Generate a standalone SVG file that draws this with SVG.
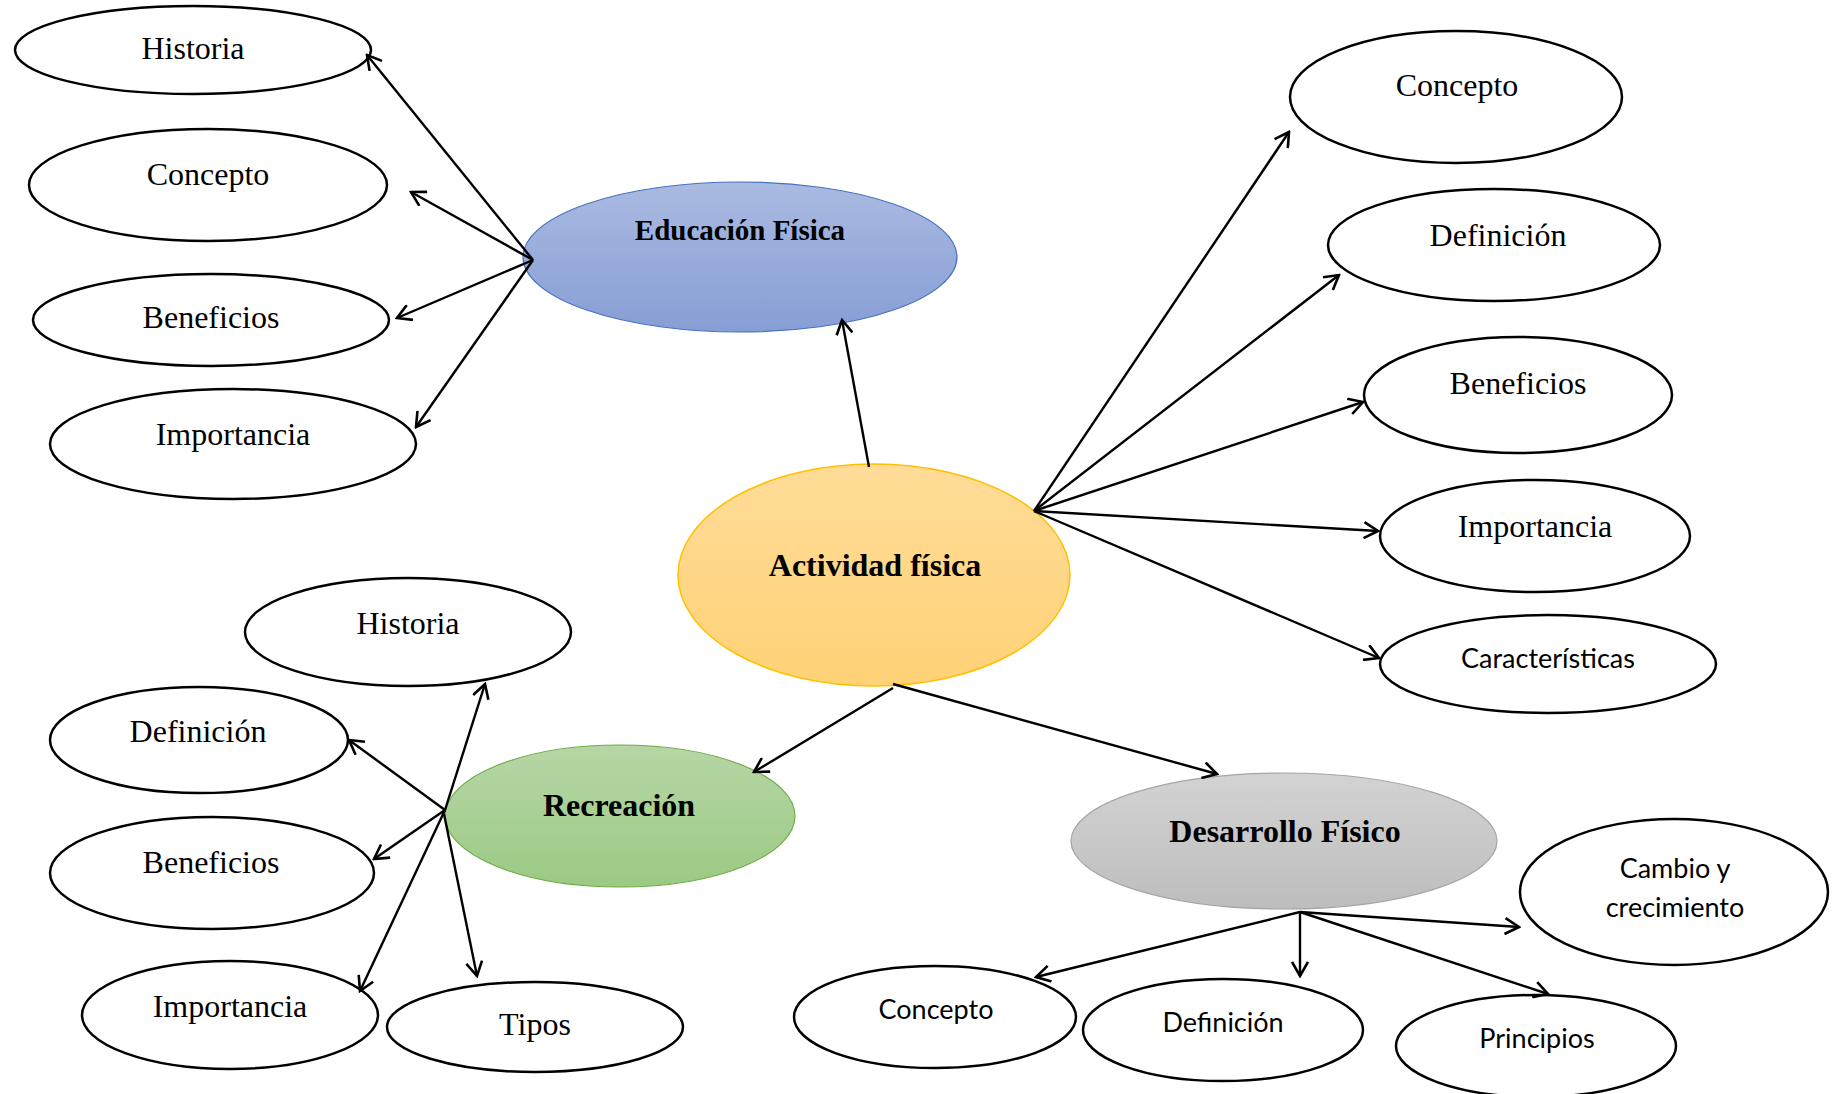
<svg xmlns="http://www.w3.org/2000/svg" width="1836" height="1094" viewBox="0 0 1836 1094">
<style>
.n{fill:#fff;stroke:#000;stroke-width:2.5}
.t{font-family:"Liberation Serif","Times New Roman",serif;font-size:32px;fill:#000;text-anchor:middle}
.b{font-family:"Liberation Serif","Times New Roman",serif;font-size:32px;font-weight:bold;fill:#000;text-anchor:middle}
.s{font-family:Lato,"Liberation Sans",sans-serif;font-size:27px;fill:#000;text-anchor:middle}
.c line{stroke:#000;stroke-width:2.4;marker-end:url(#ah)}
</style>
<defs>
<marker id="ah" viewBox="0 0 18 18" refX="16" refY="9" markerWidth="18" markerHeight="18" markerUnits="userSpaceOnUse" orient="auto">
<path d="M2,1 L16,9 L2,17" fill="none" stroke="#000" stroke-width="2.6"/>
</marker>
<linearGradient id="gb" x1="0" y1="0" x2="0" y2="1"><stop offset="0" stop-color="#AABAE1"/><stop offset="1" stop-color="#879ED5"/></linearGradient>
<linearGradient id="go" x1="0" y1="0" x2="0" y2="1"><stop offset="0" stop-color="#FFDC98"/><stop offset="1" stop-color="#FFD277"/></linearGradient>
<linearGradient id="gg" x1="0" y1="0" x2="0" y2="1"><stop offset="0" stop-color="#B7D6A6"/><stop offset="1" stop-color="#9BCA84"/></linearGradient>
<linearGradient id="gy" x1="0" y1="0" x2="0" y2="1"><stop offset="0" stop-color="#D3D3D3"/><stop offset="1" stop-color="#BDBDBD"/></linearGradient>
</defs>
<rect width="1836" height="1094" fill="#fff"/>

<g id="educacion-fisica"><ellipse cx="740" cy="257" rx="217" ry="75" fill="url(#gb)" stroke="#4472C4" stroke-width="1.2"/><text class="b" x="740" y="240" style="font-size:29px">Educación Física</text></g>
<g id="edu-historia"><ellipse class="n" cx="193" cy="50" rx="178" ry="44"/><text class="t" x="193" y="59">Historia</text></g>
<g id="edu-concepto"><ellipse class="n" cx="208" cy="185" rx="179" ry="56"/><text class="t" x="208" y="185">Concepto</text></g>
<g id="edu-beneficios"><ellipse class="n" cx="211" cy="320" rx="178" ry="46"/><text class="t" x="211" y="328">Beneficios</text></g>
<g id="edu-importancia"><ellipse class="n" cx="233" cy="444" rx="183" ry="55"/><text class="t" x="233" y="445">Importancia</text></g>

<g id="actividad-fisica"><ellipse cx="874" cy="575" rx="196" ry="111" fill="url(#go)" stroke="#FFC000" stroke-width="1.5"/><text class="b" x="875" y="576">Actividad física</text></g>
<g id="af-concepto"><ellipse class="n" cx="1456" cy="97" rx="166" ry="66"/><text class="t" x="1457" y="96">Concepto</text></g>
<g id="af-definicion"><ellipse class="n" cx="1494" cy="245" rx="166" ry="56"/><text class="t" x="1498" y="246">Definición</text></g>
<g id="af-beneficios"><ellipse class="n" cx="1518" cy="395" rx="154" ry="58"/><text class="t" x="1518" y="394">Beneficios</text></g>
<g id="af-importancia"><ellipse class="n" cx="1535" cy="536" rx="155" ry="56"/><text class="t" x="1535" y="537">Importancia</text></g>
<g id="af-caracteristicas"><ellipse class="n" cx="1548" cy="664" rx="168" ry="49"/><text class="s" x="1548" y="668">Características</text></g>

<g id="recreacion"><ellipse cx="620" cy="816" rx="175" ry="71" fill="url(#gg)" stroke="#70AD47" stroke-width="1.2"/><text class="b" x="619" y="816">Recreación</text></g>
<g id="rec-historia"><ellipse class="n" cx="408" cy="632" rx="163" ry="54"/><text class="t" x="408" y="634">Historia</text></g>
<g id="rec-definicion"><ellipse class="n" cx="199" cy="740" rx="149" ry="53"/><text class="t" x="198" y="742">Definición</text></g>
<g id="rec-beneficios"><ellipse class="n" cx="212" cy="873" rx="162" ry="56"/><text class="t" x="211" y="873">Beneficios</text></g>
<g id="rec-importancia"><ellipse class="n" cx="230" cy="1015" rx="148" ry="54"/><text class="t" x="230" y="1017">Importancia</text></g>
<g id="rec-tipos"><ellipse class="n" cx="535" cy="1027" rx="148" ry="45"/><text class="t" x="535" y="1035">Tipos</text></g>

<g id="desarrollo-fisico"><ellipse cx="1284" cy="841" rx="213" ry="68" fill="url(#gy)" stroke="#A5A5A5" stroke-width="1.2"/><text class="b" x="1285" y="842">Desarrollo Físico</text></g>
<g id="df-cambio"><ellipse class="n" cx="1674" cy="892" rx="154" ry="73"/><text class="s" x="1675" y="878">Cambio y</text><text class="s" x="1675" y="917">crecimiento</text></g>
<g id="df-concepto"><ellipse class="n" cx="935" cy="1017" rx="141" ry="51"/><text class="s" x="936" y="1019">Concepto</text></g>
<g id="df-definicion"><ellipse class="n" cx="1223" cy="1030" rx="140" ry="51"/><text class="s" x="1223" y="1032">Definición</text></g>
<g id="df-principios"><ellipse class="n" cx="1536" cy="1046" rx="140" ry="51"/><text class="s" x="1537" y="1048">Principios</text></g>

<g id="connectors" class="c">
<line x1="869" y1="467" x2="842" y2="320"/>
<line x1="533" y1="260" x2="367" y2="55"/>
<line x1="533" y1="260" x2="411" y2="192"/>
<line x1="533" y1="260" x2="397" y2="318"/>
<line x1="533" y1="260" x2="416" y2="427"/>
<line x1="1034" y1="511" x2="1289" y2="132"/>
<line x1="1034" y1="511" x2="1339" y2="275"/>
<line x1="1034" y1="511" x2="1363" y2="402"/>
<line x1="1034" y1="511" x2="1378" y2="531"/>
<line x1="1034" y1="511" x2="1379" y2="658"/>
<line x1="893" y1="688" x2="754" y2="772"/>
<line x1="893" y1="684" x2="1217" y2="774"/>
<line x1="445" y1="810" x2="485" y2="684"/>
<line x1="445" y1="810" x2="349" y2="740"/>
<line x1="445" y1="810" x2="374" y2="859"/>
<line x1="445" y1="810" x2="360" y2="991"/>
<line x1="444" y1="814" x2="477" y2="976"/>
<line x1="1300" y1="912" x2="1036" y2="977"/>
<line x1="1300" y1="912" x2="1300" y2="976"/>
<line x1="1300" y1="912" x2="1519" y2="927"/>
<line x1="1300" y1="912" x2="1548" y2="994"/>
</g>
</svg>
